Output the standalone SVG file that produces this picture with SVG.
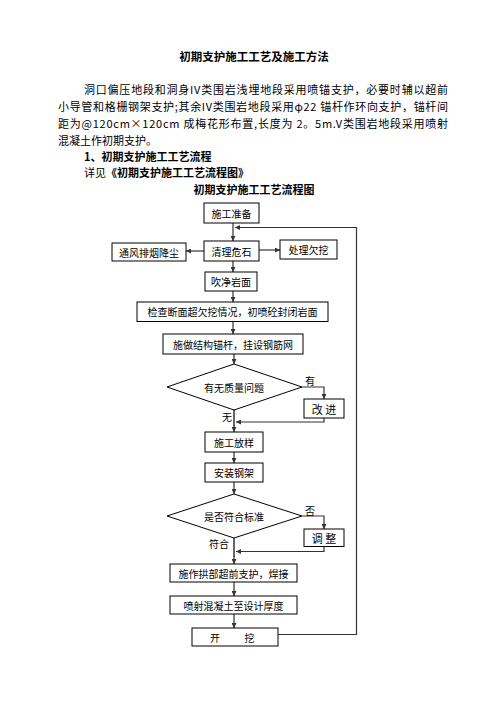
<svg xmlns="http://www.w3.org/2000/svg" width="496" height="702" viewBox="0 0 496 702">
<defs>
<style>
.t{font-family:"Noto Sans CJK SC","Liberation Sans",sans-serif;fill:#000;dominant-baseline:central}
.p{font-size:11px}
.b{font-weight:bold}
.n{font-size:10px;text-anchor:middle}
.box{fill:#fff;stroke:#000;stroke-width:1}
.c{fill:none;stroke:#333;stroke-width:1.2}
.g{fill:none;stroke:#666;stroke-width:2}
</style>
<marker id="ah" viewBox="0 0 10 10" refX="10" refY="5" markerWidth="6" markerHeight="5" markerUnits="userSpaceOnUse" orient="auto">
<path d="M0,0 L10,5 L0,10 z" fill="#333"/>
</marker>
</defs>
<rect width="496" height="702" fill="#fff"/>
<g id="text-body">
<text class="t p b" x="254" y="56" text-anchor="middle" style="font-size:11.5px">初期支护施工工艺及施工方法</text>
<text class="t p" x="84" y="88.5" textLength="364" lengthAdjust="spacing">洞口偏压地段和洞身IV类围岩浅埋地段采用喷锚支护，必要时辅以超前</text>
<text class="t p" x="58" y="105.5" textLength="390" lengthAdjust="spacing">小导管和格栅钢架支护;其余IV类围岩地段采用φ22 锚杆作环向支护，锚杆间</text>
<text class="t p" x="58" y="122.5" textLength="390" lengthAdjust="spacing">距为@120cm×120cm 成梅花形布置,长度为 2。5m.V类围岩地段采用喷射</text>
<text class="t p" x="58" y="139.5">混凝土作初期支护。</text>
<text class="t p b" x="84" y="156">1、初期支护施工工艺流程</text>
<text class="t p" x="84" y="171.5">详见<tspan class="b">《初期支护施工工艺流程图》</tspan></text>
<text class="t p b" x="254" y="189" text-anchor="middle">初期支护施工工艺流程图</text>
</g>
<g id="connectors">
<line class="c" x1="233" y1="223" x2="233" y2="241" marker-end="url(#ah)"/>
<polyline class="c" points="278,634.5 356.5,634.5 356.5,227.5 235,227.5" marker-end="url(#ah)"/>
<line class="c" x1="204" y1="251" x2="186" y2="251" marker-end="url(#ah)"/>
<line class="c" x1="259" y1="250" x2="280" y2="250" marker-end="url(#ah)"/>
<line class="c" x1="233" y1="261" x2="233" y2="272" marker-end="url(#ah)"/>
<line class="c" x1="233" y1="291" x2="233" y2="302" marker-end="url(#ah)"/>
<line class="c" x1="233" y1="321.5" x2="233" y2="334" marker-end="url(#ah)"/>
<line class="c" x1="234" y1="354" x2="234" y2="364" marker-end="url(#ah)"/>
<polyline class="c" points="302,387 324,387 324,399" marker-end="url(#ah)"/>
<polyline class="c" points="324,418 324,422 236,422" marker-end="url(#ah)"/>
<line class="g" x1="234" y1="410" x2="234" y2="426"/>
<line class="c" x1="234" y1="425" x2="234" y2="432" marker-end="url(#ah)"/>
<line class="c" x1="234" y1="452" x2="234" y2="463" marker-end="url(#ah)"/>
<line class="c" x1="234" y1="482" x2="234" y2="494" marker-end="url(#ah)"/>
<polyline class="c" points="302,516 324,516 324,529" marker-end="url(#ah)"/>
<polyline class="c" points="324,546.5 324,551.5 236,551.5" marker-end="url(#ah)"/>
<line class="g" x1="234" y1="538" x2="234" y2="557"/>
<line class="c" x1="234" y1="556" x2="234" y2="564" marker-end="url(#ah)"/>
<line class="c" x1="234" y1="582" x2="234" y2="596" marker-end="url(#ah)"/>
<line class="c" x1="234" y1="614" x2="234" y2="628" marker-end="url(#ah)"/>
</g>
<g id="n1"><rect class="box" x="204" y="203" width="55" height="20"/><text class="t n" x="231.5" y="213">施工准备</text></g>
<g id="n2"><rect class="box" x="204" y="241" width="55" height="20"/><text class="t n" x="231.5" y="251">清理危石</text></g>
<g id="n3"><rect class="box" x="112" y="243" width="74" height="18"/><text class="t n" x="149" y="252">通风排烟降尘</text></g>
<g id="n4"><rect class="box" x="280" y="240" width="57" height="19"/><text class="t n" x="308.5" y="249.5">处理欠挖</text></g>
<g id="n5"><rect class="box" x="205" y="272" width="52" height="19"/><text class="t n" x="231" y="281.5">吹净岩面</text></g>
<g id="n6"><rect class="box" x="137" y="302" width="191" height="19.5"/><text class="t n" x="232.5" y="311.75" textLength="170" lengthAdjust="spacing">检查断面超欠挖情况，初喷砼封闭岩面</text></g>
<g id="n7"><rect class="box" x="163" y="334" width="140" height="20"/><text class="t n" x="233" y="344">施做结构锚杆，挂设钢筋网</text></g>
<g id="d1"><polygon class="box" points="234,364 302,387 234,410 167,387"/><text class="t n" x="234" y="387">有无质量问题</text></g>
<text class="t n" x="310" y="380">有</text>
<text class="t n" x="227" y="416.5">无</text>
<g id="n8"><rect class="box" x="304" y="399" width="40" height="19"/><text class="t n" x="324" y="408.5" style="font-size:11px">改 进</text></g>
<g id="n9"><rect class="box" x="205" y="432" width="58" height="20"/><text class="t n" x="234" y="442">施工放样</text></g>
<g id="n10"><rect class="box" x="205" y="463" width="58" height="19"/><text class="t n" x="234" y="472.5">安装钢架</text></g>
<g id="d2"><polygon class="box" points="234,494 302,516 234,538 167,516"/><text class="t n" x="234" y="516">是否符合标准</text></g>
<text class="t n" x="310" y="510">否</text>
<text class="t n" x="219" y="543.5">符合</text>
<g id="n11"><rect class="box" x="304" y="529" width="40" height="17.5"/><text class="t n" x="324" y="537.75" style="font-size:11px">调 整</text></g>
<g id="n12"><rect class="box" x="170" y="564" width="127" height="18"/><text class="t n" x="233.5" y="573">施作拱部超前支护，焊接</text></g>
<g id="n13"><rect class="box" x="170" y="596" width="127" height="18"/><text class="t n" x="233.5" y="605">喷射混凝土至设计厚度</text></g>
<g id="n14"><rect class="box" x="192" y="628" width="86" height="18"/><text class="t n" y="637"><tspan x="215">开</tspan><tspan x="249.5">挖</tspan></text></g>
</svg>
